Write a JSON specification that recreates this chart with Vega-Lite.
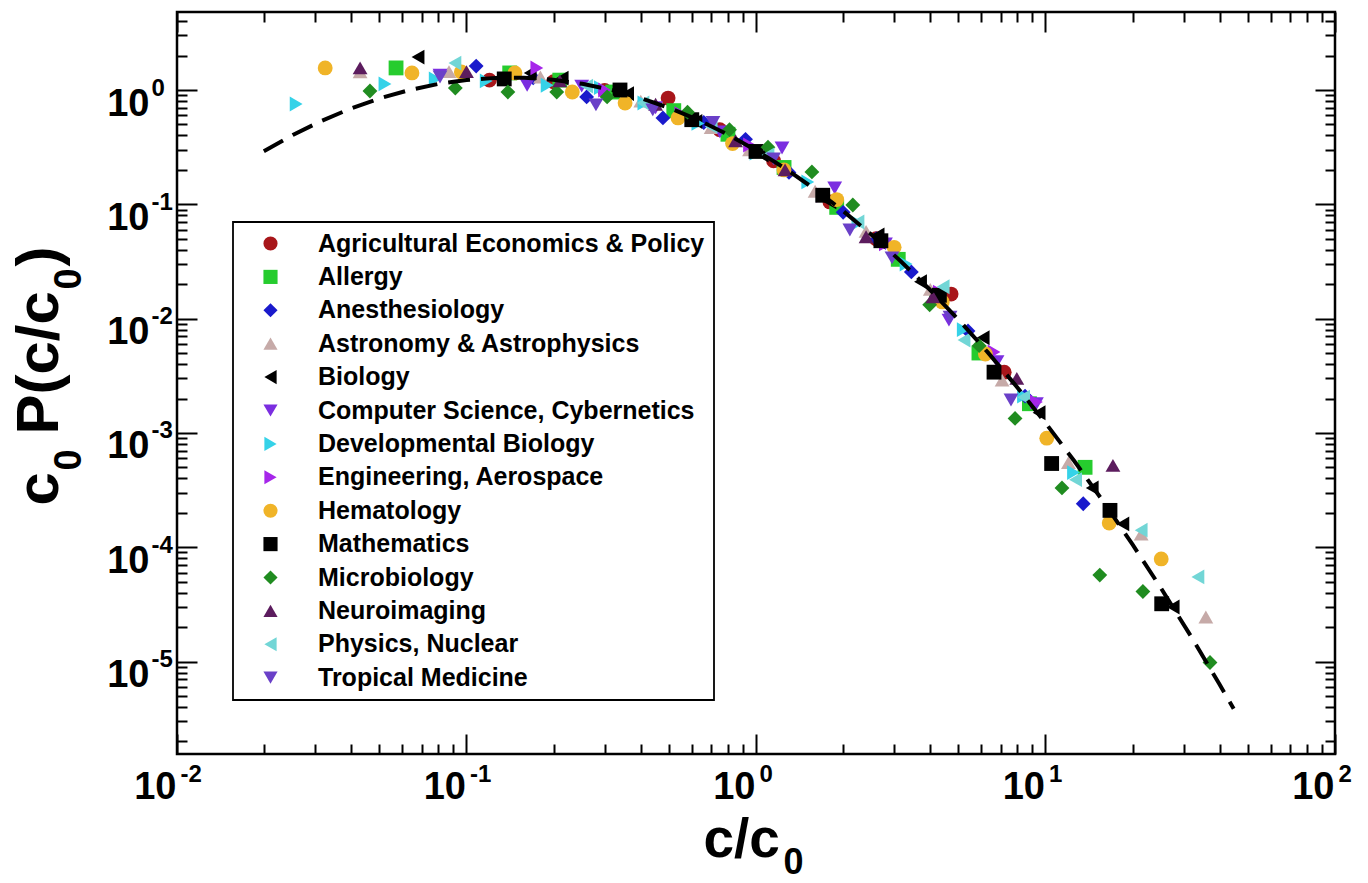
{
  "$schema": "https://vega.github.io/schema/vega-lite/v6.json",
  "width": 1158,
  "height": 742,
  "autosize": {"type": "none"},
  "padding": {"left": 177, "top": 12, "right": 33, "bottom": 129},
  "background": "white",
  "config": {
    "view": {"stroke": "black", "strokeWidth": 2.5},
    "axis": {"grid": false, "domain": false, "tickWidth": 2, "tickColor": "black"},
    "legend": {"strokeWidth": 1.8},
    "font": "Liberation Sans"
  },
  "datasets": {
    "fit": [
      {"x": 0.01995, "y": 0.2911}, {"x": 0.02512, "y": 0.404}, {"x": 0.03162, "y": 0.5378}, {"x": 0.03981, "y": 0.688},
      {"x": 0.05012, "y": 0.8446}, {"x": 0.0631, "y": 0.9956}, {"x": 0.07943, "y": 1.1266}, {"x": 0.1, "y": 1.224},
      {"x": 0.1259, "y": 1.2766}, {"x": 0.1585, "y": 1.2782}, {"x": 0.1995, "y": 1.2286}, {"x": 0.2512, "y": 1.1337},
      {"x": 0.3162, "y": 1.0045}, {"x": 0.3981, "y": 0.8544}, {"x": 0.5012, "y": 0.6977}, {"x": 0.631, "y": 0.5468},
      {"x": 0.7943, "y": 0.4116}, {"x": 1, "y": 0.2975}, {"x": 1.259, "y": 0.2063}, {"x": 1.585, "y": 0.1374},
      {"x": 1.995, "y": 0.08785}, {"x": 2.512, "y": 0.05391}, {"x": 3.162, "y": 0.03177}, {"x": 3.981, "y": 0.01797},
      {"x": 5.012, "y": 0.009759}, {"x": 6.31, "y": 0.005088}, {"x": 7.943, "y": 0.002547}, {"x": 10, "y": 0.001224},
      {"x": 12.59, "y": 0.0005646}, {"x": 15.85, "y": 0.0002501}, {"x": 19.95, "y": 0.00010634}, {"x": 25.12, "y": 0.00004341},
      {"x": 31.62, "y": 0.000017008}, {"x": 39.81, "y": 0.0000064}, {"x": 44.67, "y": 0.000003867}
    ],
    "pts": [
      {"f": "Agricultural Economics & Policy", "x": 0.12, "y": 1.22},
      {"f": "Agricultural Economics & Policy", "x": 0.2, "y": 1.18},
      {"f": "Agricultural Economics & Policy", "x": 0.3, "y": 0.99},
      {"f": "Agricultural Economics & Policy", "x": 0.497, "y": 0.85},
      {"f": "Agricultural Economics & Policy", "x": 0.75, "y": 0.45},
      {"f": "Agricultural Economics & Policy", "x": 1.15, "y": 0.24},
      {"f": "Agricultural Economics & Policy", "x": 1.8, "y": 0.105},
      {"f": "Agricultural Economics & Policy", "x": 2.6, "y": 0.05},
      {"f": "Agricultural Economics & Policy", "x": 4.72, "y": 0.0164},
      {"f": "Agricultural Economics & Policy", "x": 7.2, "y": 0.0034},
      {"f": "Allergy", "x": 0.0571, "y": 1.56},
      {"f": "Allergy", "x": 0.141, "y": 1.41},
      {"f": "Allergy", "x": 0.21, "y": 1.22},
      {"f": "Allergy", "x": 0.32, "y": 0.96},
      {"f": "Allergy", "x": 0.52, "y": 0.66},
      {"f": "Allergy", "x": 0.8, "y": 0.41},
      {"f": "Allergy", "x": 1.25, "y": 0.21},
      {"f": "Allergy", "x": 1.9, "y": 0.094},
      {"f": "Allergy", "x": 3.1, "y": 0.033},
      {"f": "Allergy", "x": 4.2, "y": 0.0155},
      {"f": "Allergy", "x": 5.89, "y": 0.005},
      {"f": "Allergy", "x": 8.8, "y": 0.0018},
      {"f": "Allergy", "x": 13.7, "y": 0.0005},
      {"f": "Anesthesiology", "x": 0.108, "y": 1.62},
      {"f": "Anesthesiology", "x": 0.17, "y": 1.28},
      {"f": "Anesthesiology", "x": 0.26, "y": 0.87},
      {"f": "Anesthesiology", "x": 0.477, "y": 0.57},
      {"f": "Anesthesiology", "x": 0.66, "y": 0.52},
      {"f": "Anesthesiology", "x": 0.92, "y": 0.37},
      {"f": "Anesthesiology", "x": 1.3, "y": 0.19},
      {"f": "Anesthesiology", "x": 2.0, "y": 0.085},
      {"f": "Anesthesiology", "x": 2.6, "y": 0.05},
      {"f": "Anesthesiology", "x": 3.44, "y": 0.0256},
      {"f": "Anesthesiology", "x": 5.4, "y": 0.0078},
      {"f": "Anesthesiology", "x": 8.5, "y": 0.0021},
      {"f": "Anesthesiology", "x": 13.5, "y": 0.00024},
      {"f": "Astronomy & Astrophysics", "x": 0.0429, "y": 1.44},
      {"f": "Astronomy & Astrophysics", "x": 0.087, "y": 1.45},
      {"f": "Astronomy & Astrophysics", "x": 0.18, "y": 1.3},
      {"f": "Astronomy & Astrophysics", "x": 0.4, "y": 0.8},
      {"f": "Astronomy & Astrophysics", "x": 0.7, "y": 0.47},
      {"f": "Astronomy & Astrophysics", "x": 0.95, "y": 0.3},
      {"f": "Astronomy & Astrophysics", "x": 1.6, "y": 0.13},
      {"f": "Astronomy & Astrophysics", "x": 2.4, "y": 0.058},
      {"f": "Astronomy & Astrophysics", "x": 4.0, "y": 0.018},
      {"f": "Astronomy & Astrophysics", "x": 7.08, "y": 0.0029},
      {"f": "Astronomy & Astrophysics", "x": 12.0, "y": 0.00055},
      {"f": "Astronomy & Astrophysics", "x": 21.4, "y": 0.00013},
      {"f": "Astronomy & Astrophysics", "x": 35.8, "y": 0.0000245},
      {"f": "Biology", "x": 0.068, "y": 1.94},
      {"f": "Biology", "x": 0.166, "y": 1.41},
      {"f": "Biology", "x": 0.214, "y": 1.27},
      {"f": "Biology", "x": 0.36, "y": 0.93},
      {"f": "Biology", "x": 0.62, "y": 0.53},
      {"f": "Biology", "x": 1.05, "y": 0.27},
      {"f": "Biology", "x": 1.8, "y": 0.105},
      {"f": "Biology", "x": 2.64, "y": 0.054},
      {"f": "Biology", "x": 3.7, "y": 0.021},
      {"f": "Biology", "x": 6.09, "y": 0.0068},
      {"f": "Biology", "x": 9.5, "y": 0.0015},
      {"f": "Biology", "x": 14.5, "y": 0.00033},
      {"f": "Biology", "x": 18.5, "y": 0.00016},
      {"f": "Biology", "x": 27.6, "y": 0.00003},
      {"f": "Computer Science, Cybernetics", "x": 0.081, "y": 1.35},
      {"f": "Computer Science, Cybernetics", "x": 0.162, "y": 1.1},
      {"f": "Computer Science, Cybernetics", "x": 0.25, "y": 1.08},
      {"f": "Computer Science, Cybernetics", "x": 0.45, "y": 0.7},
      {"f": "Computer Science, Cybernetics", "x": 0.75, "y": 0.43},
      {"f": "Computer Science, Cybernetics", "x": 1.23, "y": 0.311},
      {"f": "Computer Science, Cybernetics", "x": 1.87, "y": 0.139},
      {"f": "Computer Science, Cybernetics", "x": 2.8, "y": 0.045},
      {"f": "Computer Science, Cybernetics", "x": 4.64, "y": 0.0097},
      {"f": "Computer Science, Cybernetics", "x": 6.8, "y": 0.0042},
      {"f": "Computer Science, Cybernetics", "x": 9.3, "y": 0.0018},
      {"f": "Developmental Biology", "x": 0.0258, "y": 0.754},
      {"f": "Developmental Biology", "x": 0.0523, "y": 1.13},
      {"f": "Developmental Biology", "x": 0.078, "y": 1.25},
      {"f": "Developmental Biology", "x": 0.117, "y": 1.2},
      {"f": "Developmental Biology", "x": 0.19, "y": 1.1},
      {"f": "Developmental Biology", "x": 0.29, "y": 1.05},
      {"f": "Developmental Biology", "x": 0.41, "y": 0.77},
      {"f": "Developmental Biology", "x": 0.63, "y": 0.51},
      {"f": "Developmental Biology", "x": 1.0, "y": 0.28},
      {"f": "Developmental Biology", "x": 1.51, "y": 0.157},
      {"f": "Developmental Biology", "x": 2.25, "y": 0.0685},
      {"f": "Developmental Biology", "x": 3.3, "y": 0.03},
      {"f": "Developmental Biology", "x": 5.2, "y": 0.008},
      {"f": "Developmental Biology", "x": 8.4, "y": 0.0021},
      {"f": "Developmental Biology", "x": 12.5, "y": 0.00045},
      {"f": "Engineering, Aerospace", "x": 0.175, "y": 1.56},
      {"f": "Engineering, Aerospace", "x": 0.3, "y": 1.0},
      {"f": "Engineering, Aerospace", "x": 0.55, "y": 0.62},
      {"f": "Engineering, Aerospace", "x": 0.95, "y": 0.33},
      {"f": "Engineering, Aerospace", "x": 1.7, "y": 0.12},
      {"f": "Engineering, Aerospace", "x": 2.8, "y": 0.045},
      {"f": "Engineering, Aerospace", "x": 4.3, "y": 0.017},
      {"f": "Engineering, Aerospace", "x": 6.64, "y": 0.0051},
      {"f": "Engineering, Aerospace", "x": 9.3, "y": 0.00186},
      {"f": "Hematology", "x": 0.0325, "y": 1.56},
      {"f": "Hematology", "x": 0.0648, "y": 1.41},
      {"f": "Hematology", "x": 0.096, "y": 1.44},
      {"f": "Hematology", "x": 0.147, "y": 1.41},
      {"f": "Hematology", "x": 0.232, "y": 0.96},
      {"f": "Hematology", "x": 0.353, "y": 0.77},
      {"f": "Hematology", "x": 0.538, "y": 0.57},
      {"f": "Hematology", "x": 0.83, "y": 0.34},
      {"f": "Hematology", "x": 1.25, "y": 0.2},
      {"f": "Hematology", "x": 1.9, "y": 0.11},
      {"f": "Hematology", "x": 3.0, "y": 0.042},
      {"f": "Hematology", "x": 4.4, "y": 0.014},
      {"f": "Hematology", "x": 6.2, "y": 0.0049},
      {"f": "Hematology", "x": 10.1, "y": 0.0009},
      {"f": "Hematology", "x": 16.6, "y": 0.000163},
      {"f": "Hematology", "x": 25.1, "y": 0.000079},
      {"f": "Mathematics", "x": 0.135, "y": 1.25},
      {"f": "Mathematics", "x": 0.339, "y": 1.0},
      {"f": "Mathematics", "x": 0.6, "y": 0.55},
      {"f": "Mathematics", "x": 1.0, "y": 0.29},
      {"f": "Mathematics", "x": 1.7, "y": 0.12},
      {"f": "Mathematics", "x": 2.7, "y": 0.048},
      {"f": "Mathematics", "x": 4.3, "y": 0.016},
      {"f": "Mathematics", "x": 6.64, "y": 0.0034},
      {"f": "Mathematics", "x": 10.5, "y": 0.00054},
      {"f": "Mathematics", "x": 16.7, "y": 0.00021},
      {"f": "Mathematics", "x": 25.2, "y": 0.000032},
      {"f": "Microbiology", "x": 0.0464, "y": 0.98},
      {"f": "Microbiology", "x": 0.0915, "y": 1.04},
      {"f": "Microbiology", "x": 0.139, "y": 0.96},
      {"f": "Microbiology", "x": 0.205, "y": 0.96},
      {"f": "Microbiology", "x": 0.306, "y": 0.87},
      {"f": "Microbiology", "x": 0.58, "y": 0.64},
      {"f": "Microbiology", "x": 0.81, "y": 0.45},
      {"f": "Microbiology", "x": 1.1, "y": 0.316},
      {"f": "Microbiology", "x": 1.56, "y": 0.192},
      {"f": "Microbiology", "x": 2.16, "y": 0.0986},
      {"f": "Microbiology", "x": 3.98, "y": 0.0132},
      {"f": "Microbiology", "x": 5.9, "y": 0.0058},
      {"f": "Microbiology", "x": 7.85, "y": 0.00134},
      {"f": "Microbiology", "x": 11.4, "y": 0.00033},
      {"f": "Microbiology", "x": 15.4, "y": 0.000057},
      {"f": "Microbiology", "x": 21.7, "y": 0.000041},
      {"f": "Microbiology", "x": 37, "y": 0.0000098},
      {"f": "Neuroimaging", "x": 0.0429, "y": 1.56},
      {"f": "Neuroimaging", "x": 0.1, "y": 1.45},
      {"f": "Neuroimaging", "x": 0.21, "y": 1.2},
      {"f": "Neuroimaging", "x": 0.45, "y": 0.75},
      {"f": "Neuroimaging", "x": 0.85, "y": 0.36},
      {"f": "Neuroimaging", "x": 1.26, "y": 0.2},
      {"f": "Neuroimaging", "x": 2.4, "y": 0.052},
      {"f": "Neuroimaging", "x": 4.08, "y": 0.0155},
      {"f": "Neuroimaging", "x": 7.96, "y": 0.003},
      {"f": "Neuroimaging", "x": 17.1, "y": 0.00052},
      {"f": "Physics, Nuclear", "x": 0.0912, "y": 1.72},
      {"f": "Physics, Nuclear", "x": 0.26, "y": 1.08},
      {"f": "Physics, Nuclear", "x": 0.407, "y": 0.77},
      {"f": "Physics, Nuclear", "x": 0.7, "y": 0.48},
      {"f": "Physics, Nuclear", "x": 1.1, "y": 0.27},
      {"f": "Physics, Nuclear", "x": 2.25, "y": 0.07},
      {"f": "Physics, Nuclear", "x": 4.43, "y": 0.019},
      {"f": "Physics, Nuclear", "x": 5.23, "y": 0.0065},
      {"f": "Physics, Nuclear", "x": 8.4, "y": 0.00205},
      {"f": "Physics, Nuclear", "x": 12.7, "y": 0.00039},
      {"f": "Physics, Nuclear", "x": 21.4, "y": 0.000141},
      {"f": "Physics, Nuclear", "x": 33.6, "y": 0.000055},
      {"f": "Tropical Medicine", "x": 0.081, "y": 1.3},
      {"f": "Tropical Medicine", "x": 0.28, "y": 0.74},
      {"f": "Tropical Medicine", "x": 0.44, "y": 0.67},
      {"f": "Tropical Medicine", "x": 0.71, "y": 0.52},
      {"f": "Tropical Medicine", "x": 1.15, "y": 0.25},
      {"f": "Tropical Medicine", "x": 2.11, "y": 0.0596},
      {"f": "Tropical Medicine", "x": 2.95, "y": 0.034},
      {"f": "Tropical Medicine", "x": 4.68, "y": 0.0103},
      {"f": "Tropical Medicine", "x": 7.6, "y": 0.00194}
    ]
  },
  "layer": [
    {
      "data": {"name": "pts"},
      "mark": {"type": "point", "filled": true, "opacity": 1, "size": 220, "strokeWidth": 0},
      "encoding": {
        "x": {"field": "x", "type": "quantitative",
          "scale": {"type": "log", "domain": [0.01, 100], "nice": false},
          "axis": {"orient": "top", "values": [0.01,0.02,0.03,0.04,0.05,0.06,0.07,0.08,0.09,0.1,0.2,0.3,0.4,0.5,0.6,0.7,0.8,0.9,1,2,3,4,5,6,7,8,9,10,20,30,40,50,60,70,80,90,100],
            "labels": false, "title": null,
            "tickSize": {"condition": {"test": "abs(log(datum.value)/LN10 - round(log(datum.value)/LN10)) < 0.000001", "value": -20}, "value": -10}}},
        "y": {"field": "y", "type": "quantitative",
          "scale": {"type": "log", "domain": [0.000001552, 4.813], "nice": false},
          "axis": {"orient": "right", "values": [0.000002,0.000003,0.000004,0.000005,0.000006,0.000007,0.000008,0.000009,0.00001,0.00002,0.00003,0.00004,0.00005,0.00006,0.00007,0.00008,0.00009,0.0001,0.0002,0.0003,0.0004,0.0005,0.0006,0.0007,0.0008,0.0009,0.001,0.002,0.003,0.004,0.005,0.006,0.007,0.008,0.009,0.01,0.02,0.03,0.04,0.05,0.06,0.07,0.08,0.09,0.1,0.2,0.3,0.4,0.5,0.6,0.7,0.8,0.9,1,2,3,4],
            "labels": false, "title": null,
            "tickSize": {"condition": {"test": "abs(log(datum.value)/LN10 - round(log(datum.value)/LN10)) < 0.000001", "value": -20}, "value": -10}}},
        "color": {"field": "f", "type": "nominal",
          "scale": {
            "domain": ["Agricultural Economics & Policy", "Allergy", "Anesthesiology", "Astronomy & Astrophysics", "Biology", "Computer Science, Cybernetics", "Developmental Biology", "Engineering, Aerospace", "Hematology", "Mathematics", "Microbiology", "Neuroimaging", "Physics, Nuclear", "Tropical Medicine"],
            "range": ["#a8161a", "#26cc2e", "#1a1acc", "#c6aaa8", "#000000", "#7b2ee0", "#35d2e8", "#a626ea", "#f0b428", "#000000", "#208c20", "#5c1c5e", "#72d6d6", "#6a40c8"]},
          "legend": {"orient": "none", "legendX": 56, "legendY": 210, "title": null,
            "labelFont": "Liberation Sans", "labelFontWeight": "bold", "labelFontSize": 25, "labelColor": "black", "labelLimit": 1000,
            "symbolSize": 200, "symbolStrokeWidth": 0, "rowPadding": 7.4, "padding": 9,
            "strokeColor": "black", "fillColor": "white", "symbolOffset": 16, "labelOffset": 35}},
        "shape": {"field": "f", "type": "nominal",
          "scale": {
            "domain": ["Agricultural Economics & Policy", "Allergy", "Anesthesiology", "Astronomy & Astrophysics", "Biology", "Computer Science, Cybernetics", "Developmental Biology", "Engineering, Aerospace", "Hematology", "Mathematics", "Microbiology", "Neuroimaging", "Physics, Nuclear", "Tropical Medicine"],
            "range": ["circle", "square", "diamond", "triangle-up", "triangle-left", "triangle-down", "triangle-right", "triangle-right", "circle", "square", "diamond", "triangle-up", "triangle-left", "triangle-down"]}}
      }
    },
    {
      "data": {"name": "fit"},
      "mark": {"type": "line", "stroke": "black", "strokeWidth": 4, "strokeDash": [22, 11]},
      "encoding": {
        "x": {"field": "x", "type": "quantitative",
          "scale": {"type": "log", "domain": [0.01, 100], "nice": false},
          "axis": {"orient": "bottom", "values": [0.01,0.02,0.03,0.04,0.05,0.06,0.07,0.08,0.09,0.1,0.2,0.3,0.4,0.5,0.6,0.7,0.8,0.9,1,2,3,4,5,6,7,8,9,10,20,30,40,50,60,70,80,90,100],
            "tickSize": {"condition": {"test": "abs(log(datum.value)/LN10 - round(log(datum.value)/LN10)) < 0.000001", "value": -20}, "value": -10},
            "labelExpr": "abs(log(datum.value)/LN10 - round(log(datum.value)/LN10)) < 0.000001 ? '10' : ''",
            "labelFont": "Liberation Sans", "labelFontWeight": "bold", "labelFontSize": 38, "labelColor": "black",
            "labelAlign": "right", "labelBaseline": "alphabetic", "labelPadding": 64, "labelOffset": -1,
            "labelOverlap": false, "labelFlush": false, "labelBound": false,
            "title": "c/c", "titleFont": "Liberation Sans", "titleFontWeight": "bold", "titleFontSize": 55, "titleColor": "black",
            "titleX": 526, "titleY": 102, "titleAlign": "left", "titleBaseline": "alphabetic", "titleAngle": 0}},
        "y": {"field": "y", "type": "quantitative",
          "scale": {"type": "log", "domain": [0.000001552, 4.813], "nice": false},
          "axis": {"orient": "left", "values": [0.000002,0.000003,0.000004,0.000005,0.000006,0.000007,0.000008,0.000009,0.00001,0.00002,0.00003,0.00004,0.00005,0.00006,0.00007,0.00008,0.00009,0.0001,0.0002,0.0003,0.0004,0.0005,0.0006,0.0007,0.0008,0.0009,0.001,0.002,0.003,0.004,0.005,0.006,0.007,0.008,0.009,0.01,0.02,0.03,0.04,0.05,0.06,0.07,0.08,0.09,0.1,0.2,0.3,0.4,0.5,0.6,0.7,0.8,0.9,1,2,3,4],
            "tickSize": {"condition": {"test": "abs(log(datum.value)/LN10 - round(log(datum.value)/LN10)) < 0.000001", "value": -20}, "value": -10},
            "labelExpr": "abs(log(datum.value)/LN10 - round(log(datum.value)/LN10)) < 0.000001 ? '10' : ''",
            "labelFont": "Liberation Sans", "labelFontWeight": "bold", "labelFontSize": 38, "labelColor": "black",
            "labelAlign": "right", "labelBaseline": "alphabetic", "labelPadding": 48, "labelOffset": 25,
            "labelOverlap": false, "labelFlush": false, "labelBound": false,
            "title": "c", "titleFont": "Liberation Sans", "titleFontWeight": "bold", "titleFontSize": 60, "titleColor": "black",
            "titleX": -120, "titleY": 493, "titleAlign": "left", "titleBaseline": "alphabetic", "titleAngle": -90}}
      }
    },
    {
      "data": {"name": "fit"},
      "mark": {"type": "point", "opacity": 0},
      "encoding": {
        "x": {"field": "x", "type": "quantitative",
          "scale": {"type": "log", "domain": [0.01, 100], "nice": false},
          "axis": {"orient": "bottom", "values": [0.01, 0.1, 1, 10, 100],
            "ticks": true, "tickSize": 0, "tickColor": "transparent",
            "labelExpr": "'' + round(log(datum.value)/LN10)",
            "labelFont": "Liberation Sans", "labelFontWeight": "bold", "labelFontSize": 24, "labelColor": "black",
            "labelAlign": "left", "labelBaseline": "alphabetic", "labelPadding": 27, "labelOffset": 3,
            "labelOverlap": false, "labelFlush": false, "labelBound": false,
            "title": "0", "titleFont": "Liberation Sans", "titleFontWeight": "bold", "titleFontSize": 36, "titleColor": "black",
            "titleX": 606, "titleY": 119, "titleAlign": "left", "titleBaseline": "alphabetic", "titleAngle": 0}},
        "y": {"field": "y", "type": "quantitative",
          "scale": {"type": "log", "domain": [0.000001552, 4.813], "nice": false},
          "axis": {"orient": "left", "values": [0.00001, 0.0001, 0.001, 0.01, 0.1, 1],
            "ticks": true, "tickSize": 0, "tickColor": "transparent",
            "labelExpr": "'' + round(log(datum.value)/LN10)",
            "labelFont": "Liberation Sans", "labelFontWeight": "bold", "labelFontSize": 24, "labelColor": "black",
            "labelAlign": "left", "labelBaseline": "alphabetic", "labelPadding": 26, "labelOffset": 5,
            "labelOverlap": false, "labelFlush": false, "labelBound": false,
            "title": "0", "titleFont": "Liberation Sans", "titleFontWeight": "bold", "titleFontSize": 38, "titleColor": "black",
            "titleX": -97, "titleY": 458, "titleAlign": "left", "titleBaseline": "alphabetic", "titleAngle": -90}}
      }
    },
    {
      "data": {"name": "fit"},
      "mark": {"type": "point", "opacity": 0},
      "encoding": {
        "x": {"field": "x", "type": "quantitative", "scale": {"type": "log", "domain": [0.01, 100], "nice": false}, "axis": null},
        "y": {"field": "y", "type": "quantitative",
          "scale": {"type": "log", "domain": [0.000001552, 4.813], "nice": false},
          "axis": {"orient": "left", "labels": false, "ticks": false,
            "title": "P(c/c", "titleFont": "Liberation Sans", "titleFontWeight": "bold", "titleFontSize": 60, "titleColor": "black",
            "titleX": -120, "titleY": 422, "titleAlign": "left", "titleBaseline": "alphabetic", "titleAngle": -90}}
      }
    },
    {
      "data": {"name": "fit"},
      "mark": {"type": "point", "opacity": 0},
      "encoding": {
        "x": {"field": "x", "type": "quantitative", "scale": {"type": "log", "domain": [0.01, 100], "nice": false}, "axis": null},
        "y": {"field": "y", "type": "quantitative",
          "scale": {"type": "log", "domain": [0.000001552, 4.813], "nice": false},
          "axis": {"orient": "left", "labels": false, "ticks": false,
            "title": "0", "titleFont": "Liberation Sans", "titleFontWeight": "bold", "titleFontSize": 38, "titleColor": "black",
            "titleX": -97, "titleY": 277, "titleAlign": "left", "titleBaseline": "alphabetic", "titleAngle": -90}}
      }
    },
    {
      "data": {"name": "fit"},
      "mark": {"type": "point", "opacity": 0},
      "encoding": {
        "x": {"field": "x", "type": "quantitative", "scale": {"type": "log", "domain": [0.01, 100], "nice": false}, "axis": null},
        "y": {"field": "y", "type": "quantitative",
          "scale": {"type": "log", "domain": [0.000001552, 4.813], "nice": false},
          "axis": {"orient": "left", "labels": false, "ticks": false,
            "title": ")", "titleFont": "Liberation Sans", "titleFontWeight": "bold", "titleFontSize": 60, "titleColor": "black",
            "titleX": -120, "titleY": 254, "titleAlign": "left", "titleBaseline": "alphabetic", "titleAngle": -90}}
      }
    }
  ],
  "resolve": {"axis": {"x": "independent", "y": "independent"}}
}
